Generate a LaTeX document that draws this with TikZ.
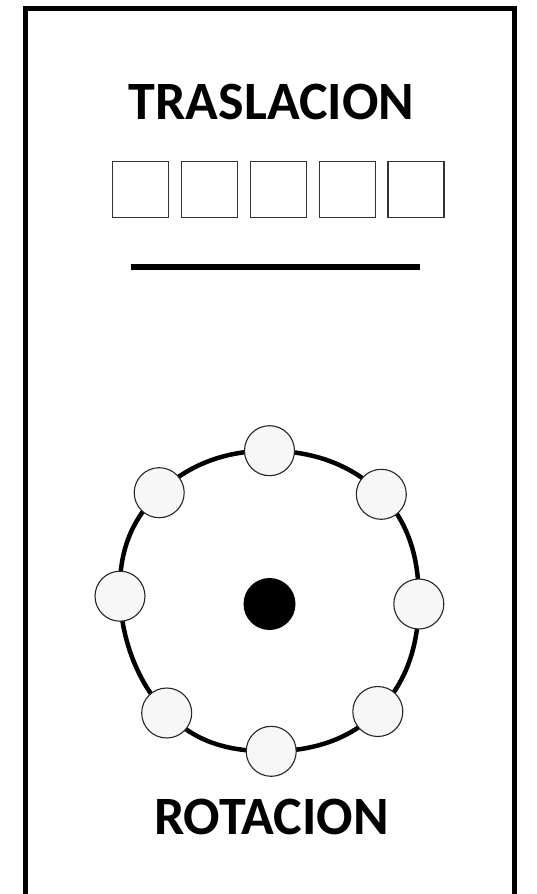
\documentclass[tikz,border=0pt]{standalone}
\usepackage{fontspec}
\setmainfont{Carlito}
\begin{document}
\begin{tikzpicture}[x=1pt,y=-1pt,
  frame/.style={draw=black,line width=5.5pt},
  title/.style={font=\fontsize{54}{60}\selectfont\bfseries,inner sep=0pt,anchor=base},
  cell/.style={draw=black!80,line width=1.4pt,minimum width=56pt,minimum height=56pt,inner sep=0pt},
  bar/.style={line width=5.5pt},
  ring/.style={line width=4.5pt},
  bead/.style={circle,draw=black!85,line width=1.1pt,fill=black!3,minimum size=50pt,inner sep=0pt},
  hub/.style={circle,fill=black,minimum size=52pt,inner sep=0pt}]
\useasboundingbox (0,0) rectangle (536,894);
\path[fill=white] (0,0) rectangle (536,894);
\draw[frame] (25.5,920) -- (25.5,8.5) -- (514.5,8.5) -- (514.5,920);
% translation
\node[title] (tras) at (271.5,119) {TRASLACION};
\foreach \i/\x in {1/140.5,2/209.5,3/278.5,4/347.5,5/416}{
  \node[cell] (c\i) at (\x,189.7) {};
}
\coordinate (bl) at (130.7,267);
\coordinate (br) at (420.3,267);
\draw[bar] (bl) -- (br);
% rotation
\coordinate (p1) at (269.5,450.7);
\coordinate (p2) at (381.3,494.3);
\coordinate (p3) at (418.8,604);
\coordinate (p4) at (377.8,711.5);
\coordinate (p5) at (271.2,751.3);
\coordinate (p6) at (166.7,713);
\coordinate (p7) at (120,596.2);
\coordinate (p8) at (159.2,492.7);
\draw[ring] plot[smooth cycle,tension=0.7] coordinates {(p1) (p2) (p3) (p4) (p5) (p6) (p7) (p8)};
\foreach \i in {1,...,8}{ \node[bead] (b\i) at (p\i) {}; }
\node[hub] (hub) at (269.5,604) {};
\node[title] (rot) at (271.5,834.3) {ROTACION};
\end{tikzpicture}
\end{document}
